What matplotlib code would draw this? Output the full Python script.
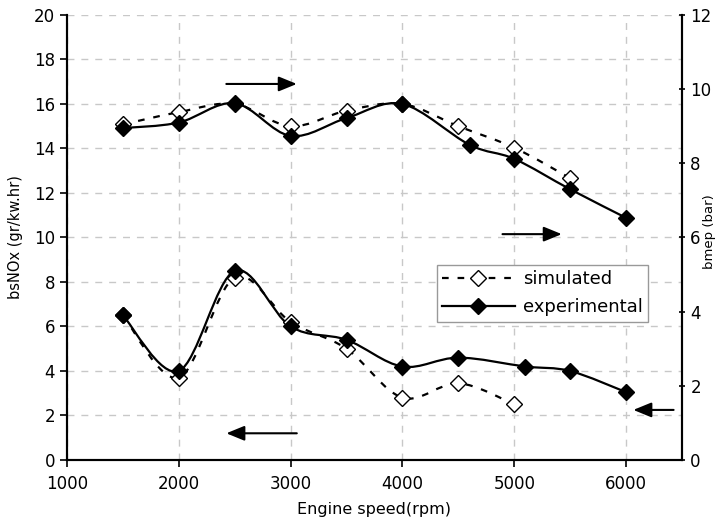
import numpy as np
import matplotlib
matplotlib.use('Agg')
import matplotlib.pyplot as plt
from matplotlib.path import Path
from matplotlib.patches import PathPatch
from matplotlib.lines import Line2D

plt.rcParams['font.family'] = ['DejaVu Sans']

# bsNOx (left axis)
nox_sim_rpm = [1500, 2000, 2500, 3000, 3500, 4000, 4500, 5000]
nox_sim = [6.5, 3.7, 8.2, 6.2, 5.0, 2.8, 3.45, 2.5]
nox_exp_rpm = [1500, 2000, 2500, 3000, 3500, 4000, 4500, 5100, 5500, 6000]
nox_exp = [6.5, 4.0, 8.5, 6.0, 5.4, 4.2, 4.6, 4.2, 4.0, 3.05]

# bmep (right axis)
bmep_sim_rpm = [1500, 2000, 2500, 3000, 3500, 4000, 4500, 5000, 5500]
bmep_sim = [9.05, 9.38, 9.6, 9.0, 9.42, 9.6, 9.0, 8.42, 7.6]
bmep_exp_rpm = [1500, 2000, 2500, 3000, 3500, 4000, 4600, 5000, 5500, 6000]
bmep_exp = [8.95, 9.1, 9.62, 8.74, 9.22, 9.6, 8.5, 8.12, 7.3, 6.53]


def smooth_path(xs, ys):
    # catmull-rom as cubic bezier, like a spreadsheet "smoothed line"
    pts = np.column_stack([xs, ys]).astype(float)
    n = len(pts)
    verts = [pts[0]]
    codes = [Path.MOVETO]
    for i in range(n - 1):
        p0 = pts[i - 1] if i > 0 else pts[i]
        p1, p2 = pts[i], pts[i + 1]
        p3 = pts[i + 2] if i + 2 < n else pts[i + 1]
        verts += [p1 + (p2 - p0) / 6, p2 - (p3 - p1) / 6, p2]
        codes += [Path.CURVE4] * 3
    return Path(verts, codes)


def draw_series(a, xs, ys, filled):
    ls = (0, (3, 4)) if not filled else '-'
    a.add_patch(PathPatch(smooth_path(xs, ys), fill=False, lw=1.6,
                          ls=ls, ec='black', zorder=3))
    a.plot(xs, ys, ls='none', marker='D', ms=8, mew=1.0, mec='black',
           mfc='black' if filled else 'white', zorder=4)


fig = plt.figure(figsize=(7.19, 5.22), dpi=100)
ax = fig.add_axes([0.0932, 0.1188, 0.8553, 0.8525])
ax2 = ax.twinx()

ax.set_xlim(1000, 6500)
ax.set_ylim(0, 20)
ax2.set_ylim(0, 12)
ax.set_xticks(range(1000, 7000, 1000))
ax.set_yticks(range(0, 22, 2))
ax2.set_yticks(range(0, 14, 2))

ax.grid(True, ls=(0, (5, 5)), color='#c8c8c8', lw=1.0)
ax.set_axisbelow(True)
for a in (ax, ax2):
    a.spines['top'].set_visible(False)
    for s in a.spines.values():
        s.set_linewidth(1.5)
ax.tick_params(labelsize=12, width=1.2, length=5, direction='out')
ax.tick_params(axis='x', pad=6)
ax2.tick_params(labelsize=12, width=1.2, length=5, direction='inout')

draw_series(ax, nox_sim_rpm, nox_sim, False)
draw_series(ax, nox_exp_rpm, nox_exp, True)
draw_series(ax2, bmep_sim_rpm, bmep_sim, False)
draw_series(ax2, bmep_exp_rpm, bmep_exp, True)

arrow_kw = dict(arrowstyle='-|>,head_length=1.1,head_width=0.45', color='black', lw=1.5)
ax.annotate('', xy=(3080, 16.9), xytext=(2400, 16.9), arrowprops=arrow_kw)
ax.annotate('', xy=(5450, 10.15), xytext=(4870, 10.15), arrowprops=arrow_kw)
ax.annotate('', xy=(2400, 1.2), xytext=(3080, 1.2), arrowprops=arrow_kw)
ax.annotate('', xy=(6040, 2.25), xytext=(6450, 2.25), arrowprops=arrow_kw)

ax.set_xlabel('Engine speed(rpm)', fontsize=11.5, labelpad=6)
fig.text(16 / 719, 1 - 237 / 522, 'bsNOx (gr/kw.hr)', fontsize=10.5,
         rotation=90, ha='center', va='center')
fig.text(710 / 719, 1 - 232 / 522, 'bmep (bar)', fontsize=9.5,
         rotation=90, ha='center', va='center')

handles = [
    Line2D([], [], color='black', ls=(0, (3, 4)), lw=1.6, marker='D', ms=8,
           mfc='white', mec='black'),
    Line2D([], [], color='black', ls='-', lw=1.6, marker='D', ms=8,
           mfc='black', mec='black'),
]
leg = ax2.legend(handles, ['simulated', 'experimental'], loc='upper left',
                 bbox_to_anchor=(0.6016, 0.438), borderaxespad=0, fontsize=13,
                 fancybox=False, framealpha=1, edgecolor='#999999',
                 handlelength=4.0, borderpad=0.3, labelspacing=0.55,
                 handletextpad=0.45)
leg.get_frame().set_linewidth(1.0)

fig.savefig('out.png', dpi=100)
